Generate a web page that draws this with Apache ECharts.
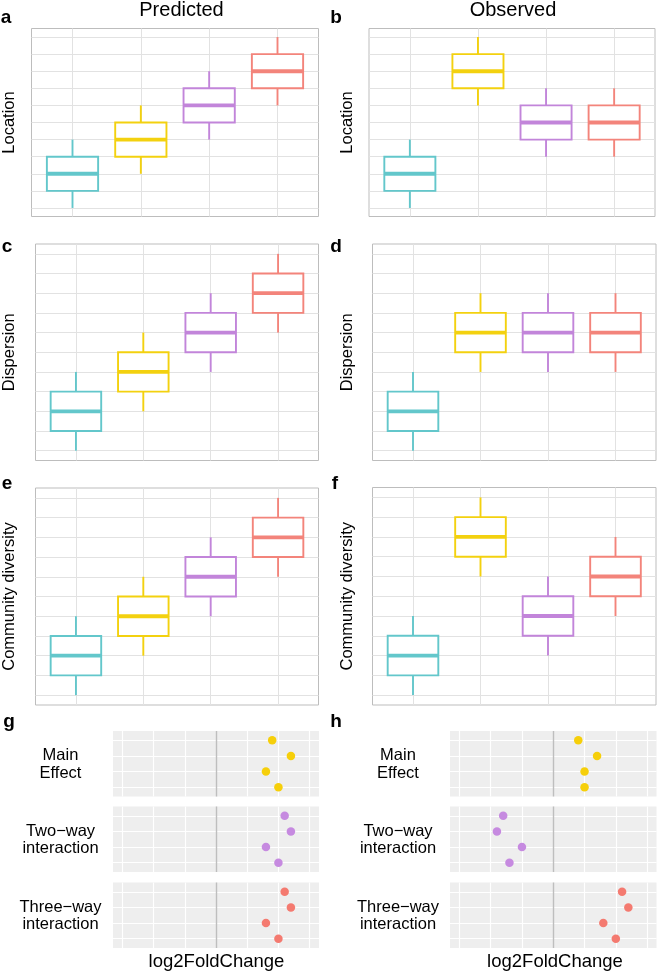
<!DOCTYPE html>
<html><head><meta charset="utf-8">
<script src="https://cdn.jsdelivr.net/npm/echarts@6/dist/echarts.min.js"></script>
<style>html,body{margin:0;padding:0;background:#fff}#c{width:657px;height:975px}</style>
</head><body><div id="c"></div>
<script>
// ---------- data ----------
const GROUP_POS = [1, 2, 3, 4];
const BOX_COLORS = ['#63C7CB', '#F3D10F', '#C285DA', '#F3847B'];
const POINT_COLORS = ['#F6CF0A', '#C68AE0', '#F47A70'];
const Y_GRID = [0, 0.5, 1, 1.5, 2, 2.5, 3, 3.5, 4, 4.5, 5];
const X_GRID = [1, 2, 3, 4];
// box stats: [min, q1, median, q3, max]
const predLocation   = [[0,0.5,1,1.5,2],[1,1.5,2,2.5,3],[2,2.5,3,3.5,4],[3,3.5,4,4.5,5]];
const obsLocation    = [[0,0.5,1,1.5,2],[3,3.5,4,4.5,5],[1.5,2,2.5,3,3.5],[1.5,2,2.5,3,3.5]];
const predDispersion = [[0,0.5,1,1.5,2],[1,1.5,2,2.5,3],[2,2.5,3,3.5,4],[3,3.5,4,4.5,5]];
const obsDispersion  = [[0,0.5,1,1.5,2],[2,2.5,3,3.5,4],[2,2.5,3,3.5,4],[2,2.5,3,3.5,4]];
const predDiversity  = [[0,0.5,1,1.5,2],[1,1.5,2,2.5,3],[2,2.5,3,3.5,4],[3,3.5,4,4.5,5]];
const obsDiversity   = [[0,0.5,1,1.5,2],[3,3.5,4,4.5,5],[1,1.5,2,2.5,3],[2,2.5,3,3.5,4]];
const Y_TITLES = ['Location', 'Dispersion', 'Community diversity'];
const COL_TITLES = ['Predicted', 'Observed'];
const PANEL_LETTERS = ['a','b','c','d','e','f','g','h'];
const EFFECTS = ['Main\nEffect', 'Two\u2212way\ninteraction', 'Three\u2212way\ninteraction'];
const FC_GRID = [-1.5, -1, -0.5, 0.5, 1, 1.5];
const ROWS = [1, 2, 3, 4];
const predFC = [[0.9, 1.2, 0.8, 1.0], [1.1, 1.2, 0.8, 1.0], [1.1, 1.2, 0.8, 1.0]];
const obsFC  = [[0.4, 0.7, 0.5, 0.5], [-0.8, -0.9, -0.5, -0.7], [1.1, 1.2, 0.8, 1.0]];
const X_LABEL = 'log2FoldChange';

// ---------- layout ----------
const FONT = 'Liberation Sans, Arial, Helvetica, sans-serif';
const BOX_W = 0.75;
const boxPanels = [
  {left: 31.5, top: 28.5, width: 287, height: 188, data: predLocation},
  {left: 369, top: 28.5, width: 286, height: 188, data: obsLocation},
  {left: 35.5, top: 244, width: 283, height: 216.5, data: predDispersion},
  {left: 372.5, top: 244, width: 283.5, height: 216.5, data: obsDispersion},
  {left: 35.5, top: 488, width: 283, height: 217, data: predDiversity},
  {left: 372.5, top: 487.5, width: 283.5, height: 217.5, data: obsDiversity}
];
const fcTops = [731, 806.5, 882.5];
const fcH = 65.5;
const fcCols = [{left: 113, width: 206, data: predFC}, {left: 450, width: 206.5, data: obsFC}];

const grid = [], xAxis = [], yAxis = [], series = [];
function hidden(o) {
  return Object.assign({axisLine: {show: false}, axisTick: {show: false}, axisLabel: {show: false}, splitLine: {show: false}}, o);
}
function renderBox(params, api) {
  const x = api.value(0);
  const lo = api.value(1), q1 = api.value(2), med = api.value(3), q3 = api.value(4), hi = api.value(5);
  const c = BOX_COLORS[params.dataIndex];
  const w = api.size([BOX_W, 0])[0];
  const pLo = api.coord([x, lo]), pQ1 = api.coord([x, q1]), pMed = api.coord([x, med]),
        pQ3 = api.coord([x, q3]), pHi = api.coord([x, hi]);
  const cx = pMed[0];
  return {type: 'group', children: [
    {type: 'line', shape: {x1: cx, y1: pHi[1], x2: cx, y2: pQ3[1]}, style: {stroke: c, lineWidth: 1.9}},
    {type: 'line', shape: {x1: cx, y1: pQ1[1], x2: cx, y2: pLo[1]}, style: {stroke: c, lineWidth: 1.9}},
    {type: 'rect', shape: {x: cx - w / 2, y: pQ3[1], width: w, height: pQ1[1] - pQ3[1]}, style: {fill: '#fff', stroke: c, lineWidth: 1.9}},
    {type: 'line', shape: {x1: cx - w / 2, y1: pMed[1], x2: cx + w / 2, y2: pMed[1]}, style: {stroke: c, lineWidth: 3.8}}
  ]};
}

boxPanels.forEach((p, i) => {
  grid.push({left: p.left, top: p.top, width: p.width, height: p.height, show: true,
    backgroundColor: '#fff', borderColor: '#BDBDBD', borderWidth: 1});
  xAxis.push(hidden({type: 'value', gridIndex: i, min: 0.4, max: 4.6}));
  yAxis.push(hidden({type: 'value', gridIndex: i, min: -0.25, max: 5.25}));
  series.push({
    type: 'line', xAxisIndex: i, yAxisIndex: i, data: [], z: 1, silent: true,
    markLine: {
      silent: true, symbol: 'none', z: 1, animation: false, label: {show: false},
      lineStyle: {color: '#E2E2E2', width: 1, type: 'solid'},
      data: Y_GRID.map(v => ({yAxis: v})).concat(X_GRID.map(v => ({xAxis: v})))
    }
  });
  series.push({
    type: 'custom', xAxisIndex: i, yAxisIndex: i, z: 3, silent: true,
    renderItem: renderBox,
    encode: {x: 0, y: [1, 2, 3, 4, 5]},
    data: p.data.map((s, k) => [GROUP_POS[k]].concat(s))
  });
});

fcCols.forEach((col, ci) => {
  fcTops.forEach((top, ri) => {
    const gi = grid.length;
    grid.push({left: col.left, top: top, width: col.width, height: fcH, show: true,
      backgroundColor: '#EEEEEE', borderWidth: 0});
    xAxis.push(hidden({type: 'value', gridIndex: gi, min: -1.65, max: 1.65}));
    yAxis.push(hidden({type: 'value', gridIndex: gi, min: 0.4, max: 4.6, inverse: true}));
    series.push({
      type: 'line', xAxisIndex: gi, yAxisIndex: gi, data: [], z: 1, silent: true,
      markLine: {
        silent: true, symbol: 'none', z: 1, animation: false, label: {show: false},
        lineStyle: {color: '#FFFFFF', width: 1.2, type: 'solid'},
        data: ROWS.map(v => ({yAxis: v})).concat(FC_GRID.map(v => ({xAxis: v})))
          .concat([{xAxis: 0, lineStyle: {color: '#BEBEBE', width: 1.4}}])
      }
    });
    series.push({
      type: 'scatter', xAxisIndex: gi, yAxisIndex: gi, z: 3, silent: true,
      symbol: 'circle', symbolSize: 8.5,
      itemStyle: {color: POINT_COLORS[ri], opacity: 1},
      data: col.data[ri].map((v, k) => [v, ROWS[k]])
    });
  });
});

// ---------- texts ----------
const graphic = [];
const txt = (x, y, text, o) => graphic.push(Object.assign({type: 'text', x: x, y: y, silent: true,
  style: Object.assign({text: text, font: '16.5px ' + FONT, fill: '#000', align: 'center', verticalAlign: 'middle'}, o || {})}));
txt(181.5, 10, COL_TITLES[0], {font: '20px ' + FONT});
txt(513, 10, COL_TITLES[1], {font: '20px ' + FONT});
const letterPos = [[6, 18], [336, 18], [7, 247], [336, 247], [7, 484], [335, 484], [9, 722], [336, 722]];
letterPos.forEach((p, i) => txt(p[0], p[1], PANEL_LETTERS[i], {font: 'bold 19px ' + FONT}));
const yTitleX = [9.5, 347];
for (let r = 0; r < 3; r++) {
  for (let c = 0; c < 2; c++) {
    const p = boxPanels[r * 2 + c];
    graphic.push({type: 'text', x: yTitleX[c], y: p.top + p.height / 2, rotation: Math.PI / 2, silent: true,
      style: {text: Y_TITLES[r], font: '16.5px ' + FONT, fill: '#000', align: 'center', verticalAlign: 'middle'}});
  }
}
const effX = [60.5, 398];
effX.forEach(x => fcTops.forEach((t, i) => txt(x, t + fcH / 2 + 0.5, EFFECTS[i], {lineHeight: 17.5})));
txt(216.5, 962, X_LABEL, {font: '18.5px ' + FONT});
txt(555, 962, X_LABEL, {font: '18.5px ' + FONT});

const chart = echarts.init(document.getElementById('c'), null, {renderer: 'canvas'});
chart.setOption({animation: false, backgroundColor: '#fff', grid, xAxis, yAxis, series, graphic});
</script>
</body></html>
